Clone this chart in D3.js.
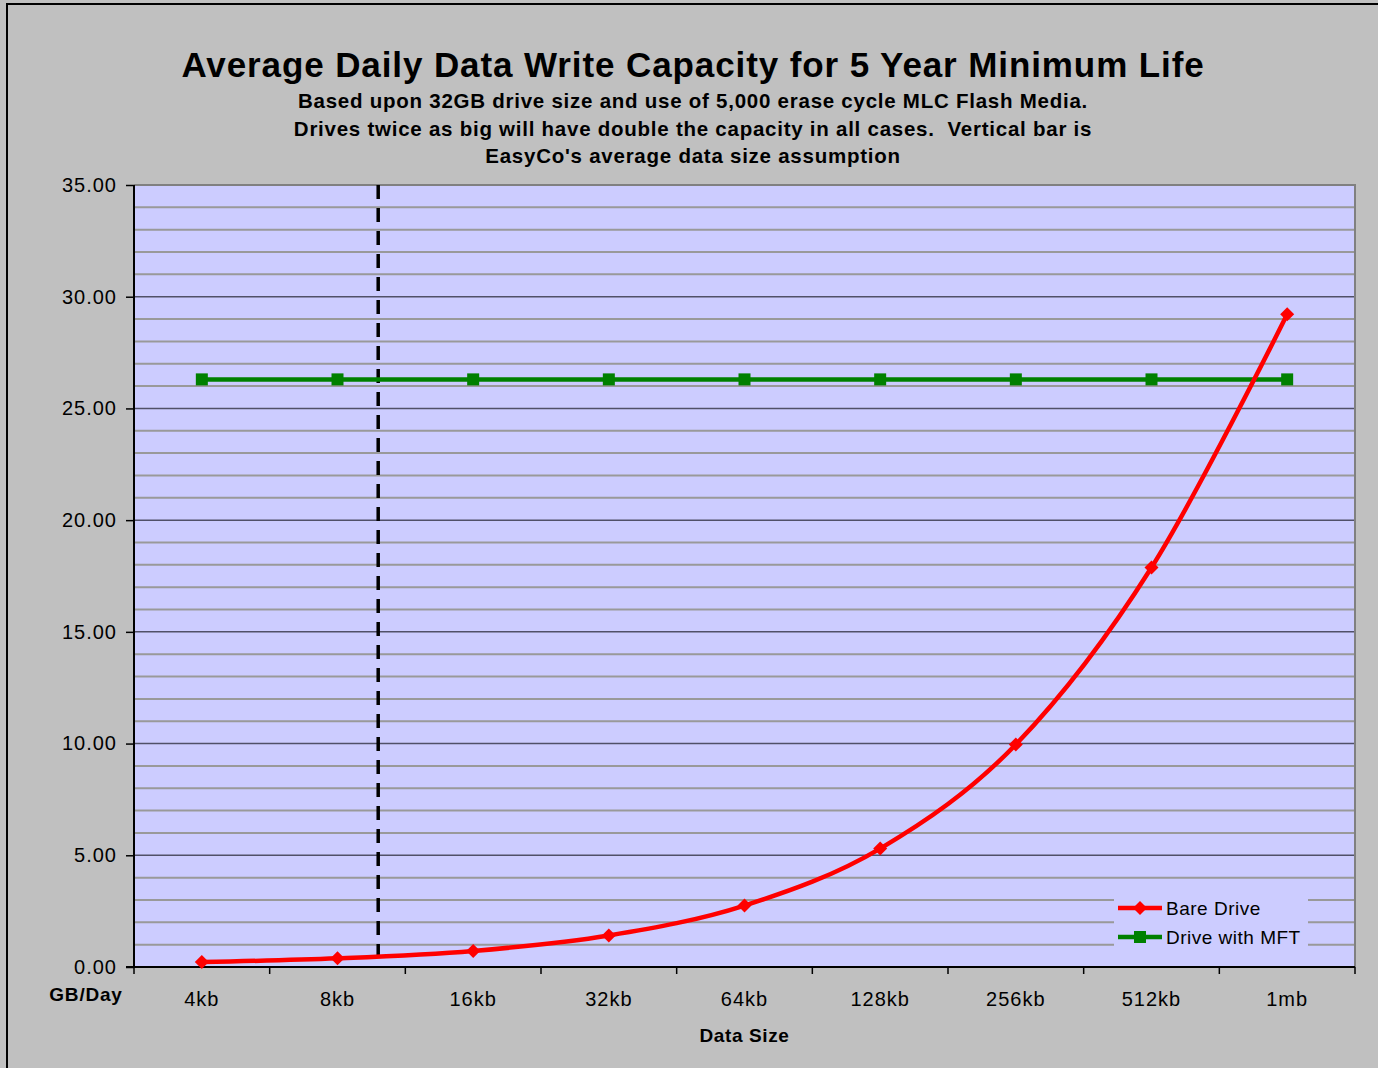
<!DOCTYPE html>
<html>
<head>
<meta charset="utf-8">
<script src="https://cdn.jsdelivr.net/npm/d3@7"></script>
<style>
  body { margin: 0; background: #c0c0c0; }
  svg { display: block; font-family: 'Liberation Sans', Arial, sans-serif; }
</style>
</head>
<body>
<svg id="chart" width="1378" height="1068"></svg>
<script>
// DATA
const categories = ['4kb', '8kb', '16kb', '32kb', '64kb', '128kb', '256kb', '512kb', '1mb'];
const bareDrive = [0.22, 0.39, 0.72, 1.41, 2.75, 5.30, 9.96, 17.88, 29.21];
const driveMFT = [26.30, 26.30, 26.30, 26.30, 26.30, 26.30, 26.30, 26.30, 26.30];
const yTicks = [0, 5, 10, 15, 20, 25, 30, 35];
const assumptionPos = 1.30; // category index of the dashed bar (~10kb)

const svg = d3.select('#chart');

// OUTER FRAME
svg.append('rect')
    .attr('x', 7).attr('y', 4)
    .attr('width', 1400).attr('height', 1100)
    .attr('fill', '#c0c0c0')
    .attr('stroke', '#000')
    .attr('stroke-width', 2);

// MARGINS
const margin = { top: 185, left: 134, right: 1355, bottom: 967 };

// SCALES
const x = d3.scaleBand().domain(categories).range([margin.left, margin.right]);
const xc = i => margin.left + x.bandwidth() * (i + 0.5);
const y = d3.scaleLinear().domain([0, 35]).range([margin.bottom, margin.top]);

// PLOT AREA
svg.append('rect')
    .attr('x', margin.left).attr('y', margin.top)
    .attr('width', margin.right - margin.left)
    .attr('height', margin.bottom - margin.top)
    .attr('fill', '#ccccff');

// GRID
const minor = d3.range(1, 35).filter(d => d % 5 !== 0);
svg.append('g').selectAll('line').data(minor).join('line')
    .attr('x1', margin.left).attr('x2', margin.right)
    .attr('y1', d => y(d)).attr('y2', d => y(d))
    .attr('stroke', '#999999').attr('stroke-width', 2);
svg.append('g').selectAll('line').data(yTicks.filter(d => d > 0 && d < 35)).join('line')
    .attr('x1', margin.left).attr('x2', margin.right)
    .attr('y1', d => y(d)).attr('y2', d => y(d))
    .attr('stroke', '#505068').attr('stroke-width', 1.5);

// plot border (top / right)
svg.append('path')
    .attr('d', `M${margin.left},${margin.top}H${margin.right}V${margin.bottom}`)
    .attr('fill', 'none').attr('stroke', '#808080').attr('stroke-width', 2);

// AXES
const yAxis = svg.append('g')
    .attr('transform', `translate(${margin.left},0)`)
    .call(d3.axisLeft(y).tickValues(yTicks).tickSize(8).tickPadding(9).tickFormat(d3.format('.2f')));
const xAxis = svg.append('g')
    .attr('transform', `translate(0,${margin.bottom})`)
    .call(d3.axisBottom(x).tickSize(0).tickPadding(25));
xAxis.selectAll('.tick line').remove();
const bounds = d3.range(categories.length + 1).map(i => margin.left + i * x.bandwidth());
svg.append('g').selectAll('line').data(bounds).join('line')
    .attr('x1', d => d).attr('x2', d => d)
    .attr('y1', margin.bottom).attr('y2', margin.bottom + 7)
    .attr('stroke', '#000').attr('stroke-width', 1.5);

[yAxis, xAxis].forEach(a => {
    a.select('.domain').attr('stroke', '#000').attr('stroke-width', 2);
    a.selectAll('text').attr('font-size', 20).attr('fill', '#000')
        .attr('letter-spacing', 1)
        .attr('font-family', "'Liberation Sans', Arial, sans-serif");
    a.selectAll('.tick line').attr('stroke', '#000').attr('stroke-width', 1.5);
});
yAxis.select('.domain').attr('d', `M0,${margin.top}V${margin.bottom}`);
xAxis.select('.domain').attr('d', `M${margin.left - 8},0H${margin.right}`);

// DASHED ASSUMPTION BAR
svg.append('line')
    .attr('x1', xc(assumptionPos)).attr('x2', xc(assumptionPos))
    .attr('y1', margin.top).attr('y2', margin.bottom)
    .attr('stroke', '#000').attr('stroke-width', 3.5)
    .attr('stroke-dasharray', '14,9');

// LINES
const line = d3.line()
    .x((d, i) => xc(i))
    .y(d => y(d));

svg.append('path').datum(driveMFT)
    .attr('d', line.curve(d3.curveLinear))
    .attr('fill', 'none').attr('stroke', '#008000').attr('stroke-width', 4.5);
svg.append('g').selectAll('rect').data(driveMFT).join('rect')
    .attr('x', (d, i) => xc(i) - 6).attr('y', d => y(d) - 6)
    .attr('width', 12).attr('height', 12)
    .attr('fill', '#008000');

svg.append('path').datum(bareDrive)
    .attr('d', line.curve(d3.curveCatmullRom.alpha(0)))
    .attr('fill', 'none').attr('stroke', '#ff0000').attr('stroke-width', 4.5);
svg.append('g').selectAll('path.m').data(bareDrive).join('path')
    .attr('class', 'm')
    .attr('d', (d, i) => `M${xc(i)},${y(d) - 7}l7,7l-7,7l-7,-7z`)
    .attr('fill', '#ff0000');

// LEGEND
const legend = svg.append('g').attr('transform', 'translate(1114,893)');
legend.append('rect').attr('width', 194).attr('height', 58).attr('fill', '#ccccff');
const items = [
    { name: 'Bare Drive', color: '#ff0000', shape: 'diamond' },
    { name: 'Drive with MFT', color: '#008000', shape: 'square' }
];
items.forEach((it, i) => {
    const g = legend.append('g').attr('transform', `translate(0,${15 + i * 29})`);
    g.append('line').attr('x1', 4).attr('x2', 48).attr('y1', 0).attr('y2', 0)
        .attr('stroke', it.color).attr('stroke-width', 4.5);
    if (it.shape === 'diamond') {
        g.append('path').attr('d', 'M26,-7l7,7l-7,7l-7,-7z').attr('fill', it.color);
    } else {
        g.append('rect').attr('x', 20).attr('y', -6).attr('width', 12).attr('height', 12).attr('fill', it.color);
    }
    g.append('text').attr('x', 52).attr('y', 7).attr('font-size', 19)
        .attr('letter-spacing', 0.5).text(it.name);
});

// TITLES
svg.append('text')
    .attr('x', 693).attr('y', 77)
    .attr('text-anchor', 'middle')
    .attr('font-size', 35).attr('font-weight', 'bold')
    .attr('letter-spacing', 0.9)
    .text('Average Daily Data Write Capacity for 5 Year Minimum Life');

const subLines = [
    'Based upon 32GB drive size and use of 5,000 erase cycle MLC Flash Media.',
    'Drives twice as big will have double the capacity in all cases.  Vertical bar is',
    "EasyCo's average data size assumption"
];
svg.append('g').selectAll('text').data(subLines).join('text')
    .attr('x', 693).attr('y', (d, i) => 108 + i * 27.5)
    .attr('text-anchor', 'middle')
    .attr('font-size', 20.5).attr('font-weight', 'bold')
    .attr('letter-spacing', 0.75)
    .style('white-space', 'pre')
    .text(d => d);

svg.append('text')
    .attr('x', 86).attr('y', 1001)
    .attr('text-anchor', 'middle')
    .attr('font-size', 19).attr('font-weight', 'bold')
    .attr('letter-spacing', 0.8)
    .text('GB/Day');

svg.append('text')
    .attr('x', xc(4)).attr('y', 1042)
    .attr('text-anchor', 'middle')
    .attr('font-size', 19).attr('font-weight', 'bold')
    .attr('letter-spacing', 0.6)
    .text('Data Size');
</script>
</body>
</html>
